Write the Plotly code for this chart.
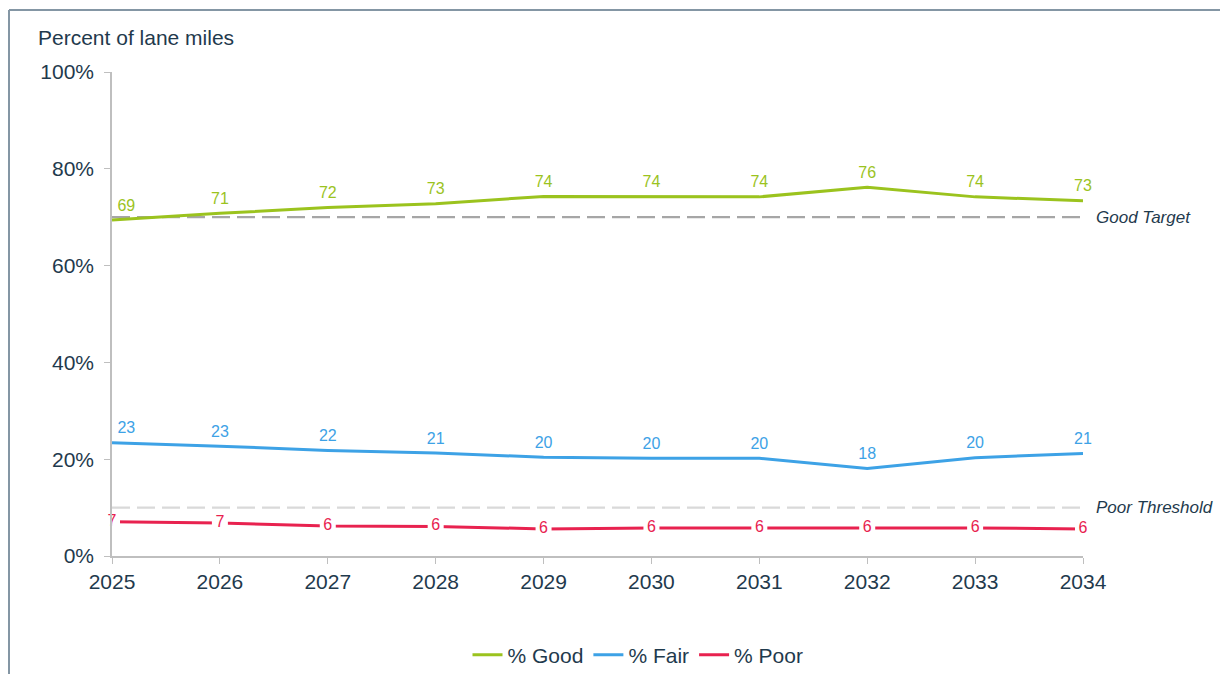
import plotly.graph_objects as go

years = [2025, 2026, 2027, 2028, 2029, 2030, 2031, 2032, 2033, 2034]
good = [69.4, 70.8, 72.0, 72.8, 74.3, 74.3, 74.2, 76.2, 74.2, 73.4]
fair = [23.4, 22.7, 21.8, 21.3, 20.4, 20.2, 20.2, 18.1, 20.3, 21.2]
poor = [7.1, 6.8, 6.2, 6.1, 5.6, 5.8, 5.8, 5.8, 5.8, 5.6]
good_target = 70
poor_threshold = 10
y_ticks = [0, 20, 40, 60, 80, 100]
y_tick_labels = ["0%", "20%", "40%", "60%", "80%", "100%"]

C_GOOD = "#9BC31E"
C_FAIR = "#3DA2E6"
C_POOR = "#E8224F"
C_TEXT = "#1F3A4D"
C_AXIS = "#BFBFBF"
FONT = "Liberation Sans, Arial"

# page body has an 8px margin, so the figure starts at (8, 8) in the window
OFF = 8
W, H = 1228 - OFF, 674 - OFF
ML, MT = 112 - OFF, 72 - OFF
PW, PH = 971, 484
MR, MB = W - ML - PW, H - MT - PH


def px_x(p):
    return (p - OFF - ML) / PW


def px_y(p):
    return (H - MB - (p - OFF)) / PH


fig = go.Figure()

# reference lines
fig.add_trace(go.Scatter(
    x=[years[0], years[-1]], y=[good_target, good_target], mode="lines",
    line=dict(color="#A6A6A6", width=2.2, dash="18px,7px"),
    showlegend=False, hoverinfo="skip"))
fig.add_trace(go.Scatter(
    x=[years[0], years[-1]], y=[poor_threshold, poor_threshold], mode="lines",
    line=dict(color="#D9D9D9", width=2.2, dash="18px,7px"),
    showlegend=False, hoverinfo="skip"))

clear = "rgba(0,0,0,0)"
label_pos = ["top right"] + ["top center"] * (len(years) - 1)
fig.add_trace(go.Scatter(
    x=years, y=good, name="% Good", mode="lines+markers+text",
    line=dict(color=C_GOOD, width=3),
    marker=dict(size=7, color=clear),
    text=[f"{v:.0f}" for v in good], textposition=label_pos,
    textfont=dict(color=C_GOOD, size=16, family=FONT),
    cliponaxis=False))
fig.add_trace(go.Scatter(
    x=years, y=fair, name="% Fair", mode="lines+markers+text",
    line=dict(color=C_FAIR, width=3),
    marker=dict(size=7, color=clear),
    text=[f"{v:.0f}" for v in fair], textposition=label_pos,
    textfont=dict(color=C_FAIR, size=16, family=FONT),
    cliponaxis=False))
fig.add_trace(go.Scatter(
    x=years, y=poor, name="% Poor", mode="lines",
    line=dict(color=C_POOR, width=3)))
fig.add_trace(go.Scatter(
    x=years, y=poor, name="% Poor", mode="markers+text", showlegend=False,
    marker=dict(symbol="square", size=16, color="white", line=dict(width=0)),
    text=[f"{v:.0f}" for v in poor], textposition="middle center",
    textfont=dict(color=C_POOR, size=16, family=FONT),
    cliponaxis=False))

fig.add_annotation(x=1, xref="paper", xshift=11, y=good_target, yref="y",
                   text="<i>Good Target</i>", showarrow=False, xanchor="left",
                   font=dict(size=17, color=C_TEXT, family=FONT))
fig.add_annotation(x=1, xref="paper", xshift=11, y=poor_threshold, yref="y",
                   text="<i>Poor Threshold</i>", showarrow=False, xanchor="left",
                   font=dict(size=17, color=C_TEXT, family=FONT))
fig.add_annotation(x=px_x(38), xref="paper", y=px_y(38), yref="paper",
                   text="Percent of lane miles", showarrow=False, xanchor="left",
                   yanchor="middle", xshift=-2,
                   font=dict(size=21, color=C_TEXT, family=FONT))

# outer frame (left and top edges)
fig.add_shape(type="line", xref="paper", yref="paper",
              x0=px_x(9), x1=px_x(9), y0=px_y(720), y1=px_y(10),
              line=dict(color="#8496A4", width=2))
fig.add_shape(type="line", xref="paper", yref="paper",
              x0=px_x(9), x1=px_x(1280), y0=px_y(10), y1=px_y(10),
              line=dict(color="#8496A4", width=2))

fig.update_layout(
    width=W, height=H,
    margin=dict(l=ML, r=MR, t=MT, b=MB, autoexpand=False),
    paper_bgcolor="white", plot_bgcolor="white",
    font=dict(family=FONT, color=C_TEXT, size=21),
    showlegend=True,
    legend=dict(orientation="h", x=px_x(638), xanchor="center",
                y=px_y(655), yanchor="middle",
                font=dict(size=21, color=C_TEXT, family=FONT), itemwidth=30,
                traceorder="normal"),
    xaxis=dict(range=[years[0], years[-1]], tickmode="array", tickvals=years,
               ticktext=[str(y) for y in years],
               showgrid=False, zeroline=False, showline=True,
               linecolor=C_AXIS, linewidth=1.5, ticks="outside", ticklen=6,
               tickcolor=C_AXIS, tickfont=dict(size=21, color=C_TEXT)),
    yaxis=dict(range=[0, 100], tickmode="array", tickvals=y_ticks,
               ticktext=y_tick_labels, showgrid=False, zeroline=False,
               showline=True, linecolor=C_AXIS, linewidth=1.5, ticks="outside",
               ticklen=6, ticklabelstandoff=6,
               tickcolor=C_AXIS, tickfont=dict(size=21, color=C_TEXT)),
)

fig.write_html("out.html")
